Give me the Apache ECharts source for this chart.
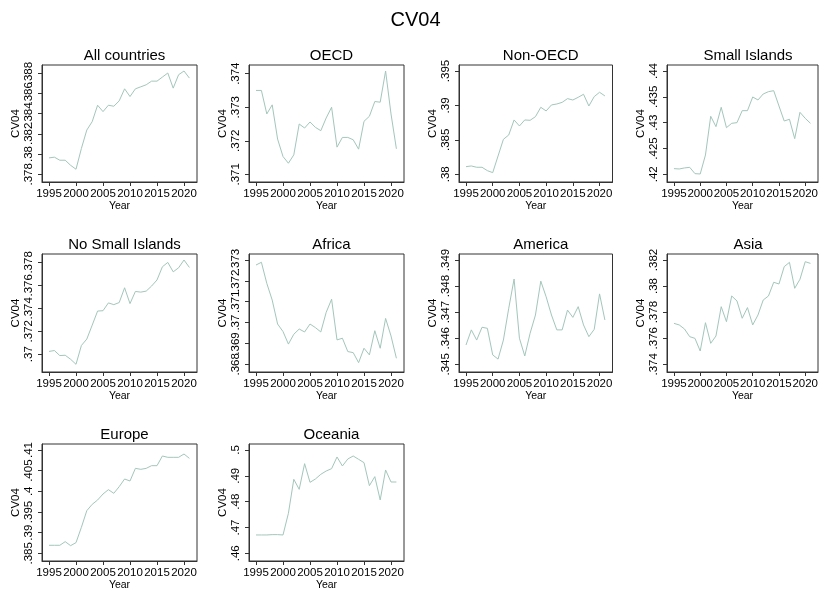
<!DOCTYPE html>
<html>
<head>
<meta charset="utf-8">
<script src="https://cdn.jsdelivr.net/npm/echarts@6/dist/echarts.min.js"></script>
<style>
html,body{margin:0;padding:0;background:#fff;}
#chart{width:821px;height:592px;}
</style>
</head>
<body>
<div id="chart"></div>
<script>
const years = [1995,1996,1997,1998,1999,2000,2001,2002,2003,2004,2005,2006,2007,2008,2009,2010,2011,2012,2013,2014,2015,2016,2017,2018,2019,2020,2021];
const xTicks = [1995,2000,2005,2010,2015,2020];

const allCountries = [.37962,.37969,.37939,.37939,.37889,.3785,.38055,.38237,.3832,.38482,.38419,.38482,.38472,.38525,.38644,.38568,.38644,.38664,.38684,.3872,.3872,.3876,.388,.38651,.38783,.3882,.3875];
const oecd = [.3735,.3735,.3728,.37307,.37205,.37153,.37133,.37158,.3725,.37238,.37256,.3724,.3723,.37268,.373,.37181,.3721,.3721,.37203,.37175,.37258,.37273,.37317,.37315,.37408,.3728,.37176];
const nonOecd = [.38111,.38121,.38102,.38102,.38053,.38024,.38266,.38508,.38571,.38789,.38702,.38789,.38784,.38837,.38973,.3892,.39007,.39021,.39045,.39099,.39079,.39118,.39162,.38992,.39128,.39191,.39138];
const smallIslands = [.4211,.42103,.42123,.42135,.42013,.42006,.42374,.43123,.42923,.43297,.42903,.42987,.43,.43232,.43232,.43497,.43439,.43555,.436,.43619,.43323,.43032,.43065,.4269,.432,.43084,.42987];
const noSmallIslands = [.37024,.37032,.36988,.36991,.36956,.36912,.37076,.37132,.37253,.37376,.37379,.37447,.37432,.3745,.37579,.37441,.37547,.37541,.3755,.37594,.37647,.37762,.378,.37718,.37753,.37821,.37756];
const africa = [.37276,.37289,.37188,.37108,.36993,.36957,.36897,.36944,.36969,.36955,.36993,.36976,.36955,.37049,.37112,.36917,.36925,.36861,.36856,.36808,.36877,.36845,.36961,.36877,.3702,.36936,.36829];
const america = [.34574,.34632,.34593,.34642,.34638,.34536,.3452,.34593,.34715,.34827,.346,.34532,.34619,.34689,.34819,.34759,.34689,.34632,.34632,.34708,.3468,.34721,.34651,.34606,.34634,.3477,.3467];
const asia = [.37714,.37702,.37671,.37612,.37599,.37502,.37719,.37561,.37617,.37842,.37727,.37924,.37886,.37753,.37835,.37702,.37778,.37893,.37924,.38029,.38016,.38149,.38182,.37983,.38052,.38187,.38174];
const europe = [.38694,.38694,.38694,.38782,.38685,.38758,.39129,.39532,.39685,.3979,.39935,.4004,.39952,.40113,.40298,.4025,.40556,.40532,.40556,.40621,.40621,.40855,.40823,.40823,.40823,.40903,.40798];
const oceania = [.4671,.4671,.4671,.46723,.46723,.4671,.47548,.48865,.48477,.49471,.48748,.48877,.49058,.49187,.49277,.49729,.49381,.49652,.49768,.49639,.4951,.48619,.48968,.48065,.49226,.48761,.48761];

const ticksAll = [.378,.38,.382,.384,.386,.388];
const ticksOecd = [.371,.372,.373,.374];
const ticksNonOecd = [.38,.385,.39,.395];
const ticksSmall = [.42,.425,.43,.435,.44];
const ticksNoSmall = [.37,.372,.374,.376,.378];
const ticksAfrica = [.368,.369,.37,.371,.372,.373];
const ticksAmerica = [.345,.346,.347,.348,.349];
const ticksAsia = [.374,.376,.378,.38,.382];
const ticksEurope = [.385,.39,.395,.4,.405,.41];
const ticksOceania = [.46,.47,.48,.49,.5];

const titles = ['All countries','OECD','Non-OECD','Small Islands','No Small Islands','Africa','America','Asia','Europe','Oceania'];
const seriesList = [allCountries,oecd,nonOecd,smallIslands,noSmallIslands,africa,america,asia,europe,oceania];
const tickList = [ticksAll,ticksOecd,ticksNonOecd,ticksSmall,ticksNoSmall,ticksAfrica,ticksAmerica,ticksAsia,ticksEurope,ticksOceania];

// layout of plot boxes (pixels)
const cols = [[42,197],[249,404],[459,612.5],[667,819]];
const rows = [[65,182],[254,372],[444,561]];

const FONT = "'Liberation Sans Narrow','Arial Narrow','Liberation Sans',Arial,sans-serif";
const LINE = '#a3c6bc';
const fmt = v => (+(+v).toFixed(6)).toString().replace(/^0\./,'.');

const option = {
  animation:false,
  backgroundColor:'#fff',
  title:[{text:'CV04',left:410.5,top:5,textAlign:'center',textStyle:{fontFamily:'Liberation Sans',fontWeight:'normal',fontSize:20,color:'#000'}}],
  grid:[],xAxis:[],yAxis:[],series:[]
};

const yLabelStyle = {show:true,margin:7,rotate:90,fontFamily:FONT,fontSize:11.5,color:'#000',showMinLabel:true,showMaxLabel:true,hideOverlap:false,formatter:fmt};

seriesList.forEach((vals,i)=>{
  const c = cols[i%4], r = rows[Math.floor(i/4)];
  const bw = c[1]-c[0], bh = r[1]-r[0];
  const innerW = bw-14.6, ppy = innerW/26;
  const xmin = 1995-7/ppy, xmax = 2021+7.6/ppy;
  const ticks = tickList[i];
  const lo = Math.min(ticks[0], ...vals), hi = Math.max(ticks[ticks.length-1], ...vals);
  const unit = (hi-lo)/(bh-13.7);
  const ymin = lo-7.7*unit, ymax = hi+6*unit;
  const evenTicks = ticks.filter((t,k)=>k%2===0), oddTicks = ticks.filter((t,k)=>k%2===1);
  option.grid.push({left:c[0],top:r[0],width:bw,height:bh,show:true,borderColor:'#333',borderWidth:1,backgroundColor:'transparent',containLabel:false});
  option.title.push({text:titles[i],left:(c[0]+c[1])/2,top:r[0]-22,textAlign:'center',textStyle:{fontFamily:'Liberation Sans',fontWeight:'normal',fontSize:15,color:'#000'}});
  option.xAxis.push({type:'value',gridIndex:i,min:xmin,max:xmax,
    name:'Year',nameLocation:'middle',nameGap:17,nameTextStyle:{fontFamily:'Liberation Sans',fontSize:10.5,color:'#000'},
    axisLine:{show:true,lineStyle:{color:'#333',width:1}},
    axisTick:{show:true,length:4,lineStyle:{color:'#333'},customValues:xTicks},
    axisLabel:{show:true,margin:6,fontFamily:FONT,fontSize:11.5,color:'#000',customValues:xTicks,showMinLabel:true,showMaxLabel:true,hideOverlap:false,formatter:v=>String(Math.round(v))},
    splitLine:{show:false}});
  const yIdx = option.yAxis.length;
  option.yAxis.push({type:'value',gridIndex:i,min:ymin,max:ymax,position:'left',
    name:'CV04',nameLocation:'middle',nameGap:18,nameRotate:90,nameTextStyle:{fontFamily:FONT,fontSize:11.5,color:'#000'},
    axisLine:{show:true,lineStyle:{color:'#333',width:1}},
    axisTick:{show:true,length:4,lineStyle:{color:'#333'},customValues:ticks},
    axisLabel:Object.assign({customValues:evenTicks},yLabelStyle),
    splitLine:{show:false}});
  option.yAxis.push({type:'value',gridIndex:i,min:ymin,max:ymax,position:'left',offset:0,
    axisLine:{show:false},axisTick:{show:false},
    axisLabel:Object.assign({customValues:oddTicks},yLabelStyle),
    splitLine:{show:false}});
  option.series.push({type:'line',xAxisIndex:i,yAxisIndex:yIdx,showSymbol:false,symbol:'none',
    lineStyle:{color:LINE,width:1},itemStyle:{color:LINE},
    data:years.map((y,k)=>[y,vals[k]])});
});

const chart = echarts.init(document.getElementById('chart'),null,{renderer:'canvas'});
chart.setOption(option);
</script>
</body>
</html>
